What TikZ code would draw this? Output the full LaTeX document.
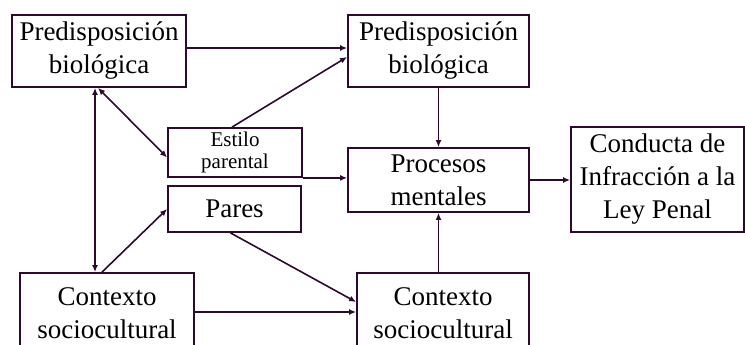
\documentclass[tikz,border=0pt]{standalone}
\usepackage{fontspec}
\setmainfont{Liberation Serif}
\usetikzlibrary{arrows.meta}
\definecolor{linea}{RGB}{45,10,45}
\tikzset{
  caja/.style={draw=linea, line width=1.8pt, align=center, inner sep=0pt,
    font=\fontsize{27}{33}\selectfont},
  flecha/.style={-{Latex[length=7pt,width=6pt]}, draw=linea, line width=1.6pt},
  doble/.style={{Latex[length=7pt,width=6pt]}-{Latex[length=7pt,width=6pt]}, draw=linea, line width=1.6pt}
}
\begin{document}
\begin{tikzpicture}[x=1pt, y=-1pt]  %modelo de la conducta
			\useasboundingbox (0,0) rectangle (745,345);
			\clip (0,0) rectangle (745,345);
			\node[caja, minimum width=174pt, minimum height=72pt] (predA) at (99,51) {Predisposición\\biológica};
			\node[caja, minimum width=181pt, minimum height=72pt] (predB) at (438.5,51) {Predisposición\\biológica};
			\node[caja, minimum width=134pt, minimum height=49pt, font=\fontsize{21}{22}\selectfont] (estilo) at (235,152.5) {Estilo\\parental};
			\node[caja, minimum width=133pt, minimum height=46pt] (pares) at (234.5,209) {Pares};
			\node[caja, minimum width=181pt, minimum height=64pt] (procesos) at (438.5,180) {Procesos\\mentales};
			\node[caja, minimum width=173pt, minimum height=105pt] (conducta) at (657.5,179.5) {Conducta de\\Infracción a la\\Ley Penal};
			\node[caja, minimum width=174pt, minimum height=80pt] (ctxA) at (107,313) {Contexto\\sociocultural};
			\node[caja, minimum width=172pt, minimum height=80pt] (ctxB) at (443,313) {Contexto\\sociocultural};
			\draw[flecha] ([yshift=3pt]predA.east) -- ([yshift=3pt]predB.west);
			\draw[flecha] ([xshift=-3pt]estilo.north) -- ([yshift=-6pt]predB.west);
			\draw[doble] ([xshift=-4pt]predA.south) -- ([xshift=-12pt]ctxA.north);
			\draw[doble] ([xshift=-1pt]predA.south) -- ([yshift=-5pt]estilo.west);
			\draw[flecha] (estilo.south east) -- (procesos.west |- estilo.south east);
			\draw[flecha] ([xshift=-5pt]ctxA.north) -- (pares.west);
			\draw[flecha] ([xshift=-4pt]pares.south) -- ([yshift=11pt]ctxB.west);
			\draw[flecha] ([yshift=1pt]ctxA.east) -- ([yshift=1pt]ctxB.west);
			\draw[flecha] (predB.south) -- (procesos.north);
			\draw[flecha] (ctxB.north -| procesos.south) -- (procesos.south);
			\draw[flecha] (procesos.east) -- (conducta.west |- procesos.east);
		\end{tikzpicture}
\end{document}
